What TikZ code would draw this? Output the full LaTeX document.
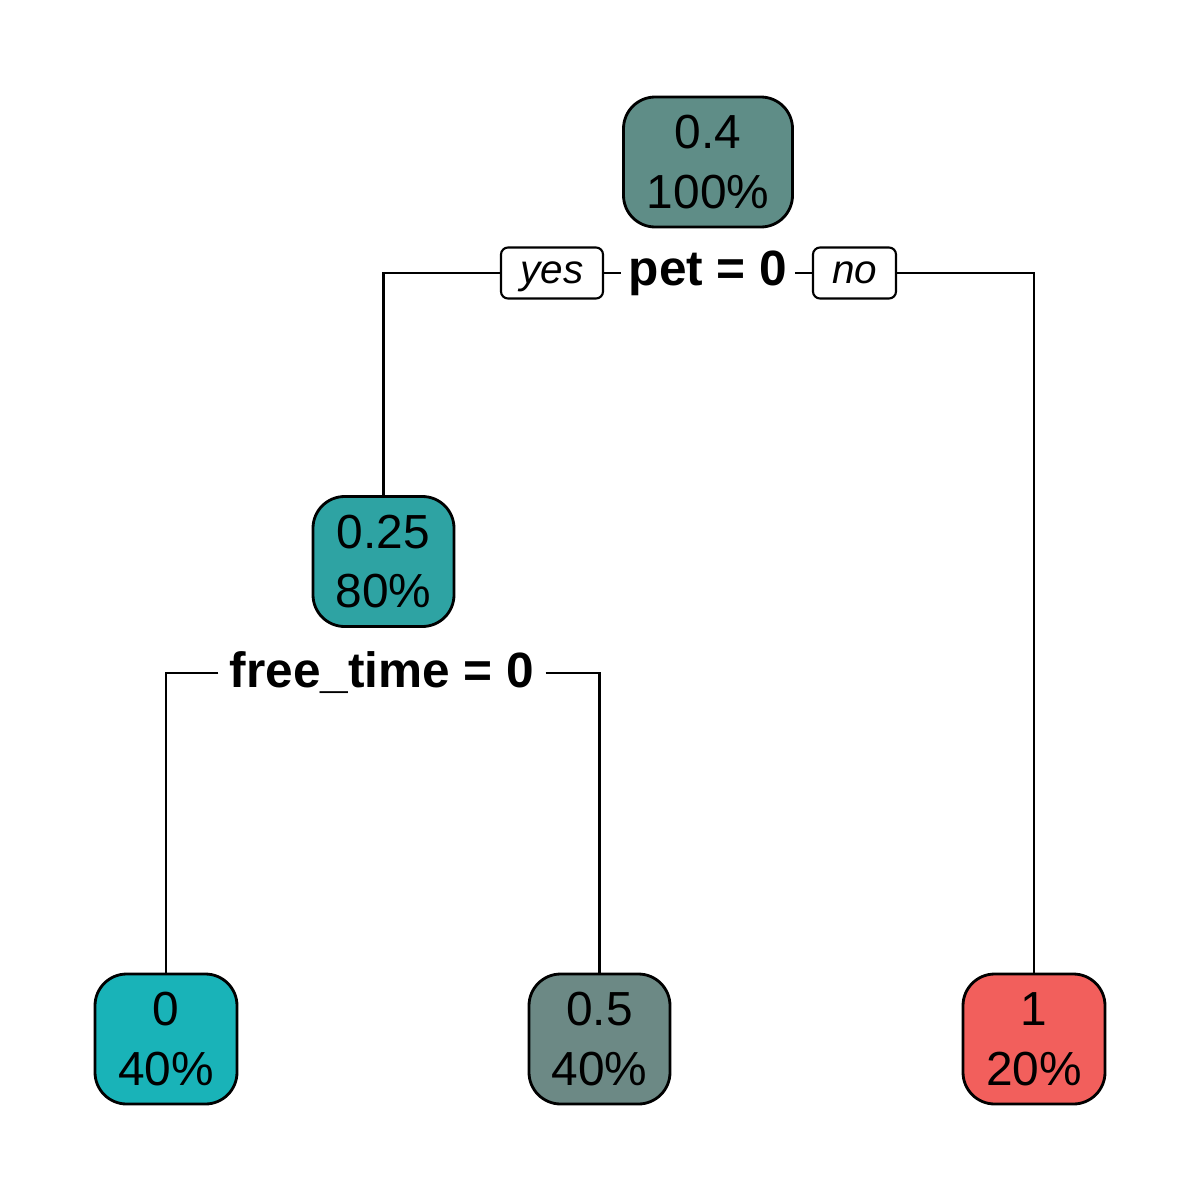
\documentclass[tikz,border=0pt]{standalone}
\usepackage{fontspec}
\setmainfont{Liberation Sans}
\definecolor{cRoot}{HTML}{5F8D87}
\definecolor{cA}{HTML}{2EA3A3}
\definecolor{cZero}{HTML}{19B3B8}
\definecolor{cHalf}{HTML}{6C8985}
\definecolor{cOne}{HTML}{F25F5C}
\begin{document}
\begin{tikzpicture}[x=0.01cm,y=-0.01cm,
  leaf/.style={draw=black,line width=0.8pt,rounded corners=9pt,minimum height=130*0.01cm,
    inner sep=0pt,align=center,font=\fontsize{13.6pt}{17pt}\selectfont},
  split/.style={inner sep=2pt,font=\fontsize{14.1pt}{16pt}\selectfont\bfseries},
  yn/.style={draw=black,line width=0.6pt,rounded corners=2pt,fill=white,inner sep=0pt,
    minimum height=51*0.01cm,text height=8.5pt,text depth=2.5pt,
    font=\fontsize{11.5pt}{13pt}\selectfont\itshape},
  edge/.style={line width=0.75pt}]
\useasboundingbox (0,0) rectangle (1200,1200);
\node[leaf,fill=cRoot,minimum width=169*0.01cm] (root) at (708,162) {0.4\\100\%};
\node[split] (pet) at (708,273) {pet = 0};
\node[yn,minimum width=102*0.01cm] (yes) at (552,273) {yes};
\node[yn,minimum width=83*0.01cm] (no) at (854.5,273) {no};
\node[leaf,fill=cA,minimum width=141*0.01cm] (n025) at (383.5,561.5) {0.25\\80\%};
\node[split,inner sep=3pt] (ft) at (382,673) {free\_time = 0};
\node[leaf,fill=cZero,minimum width=142*0.01cm] (n0) at (166,1039) {0\\40\%};
\node[leaf,fill=cHalf,minimum width=141*0.01cm] (n05) at (599.5,1039) {0.5\\40\%};
\node[leaf,fill=cOne,minimum width=142*0.01cm] (n1) at (1034,1039) {1\\20\%};
\draw[edge] (yes.east) -- (pet.west);
\draw[edge] (pet.east) -- (no.west);
\draw[edge] (yes.west) -| (n025.north);
\draw[edge] (no.east) -| (n1.north);
\draw[edge] (ft.west) -| (n0.north);
\draw[edge] (ft.east) -| (n05.north);
\end{tikzpicture}
\end{document}
